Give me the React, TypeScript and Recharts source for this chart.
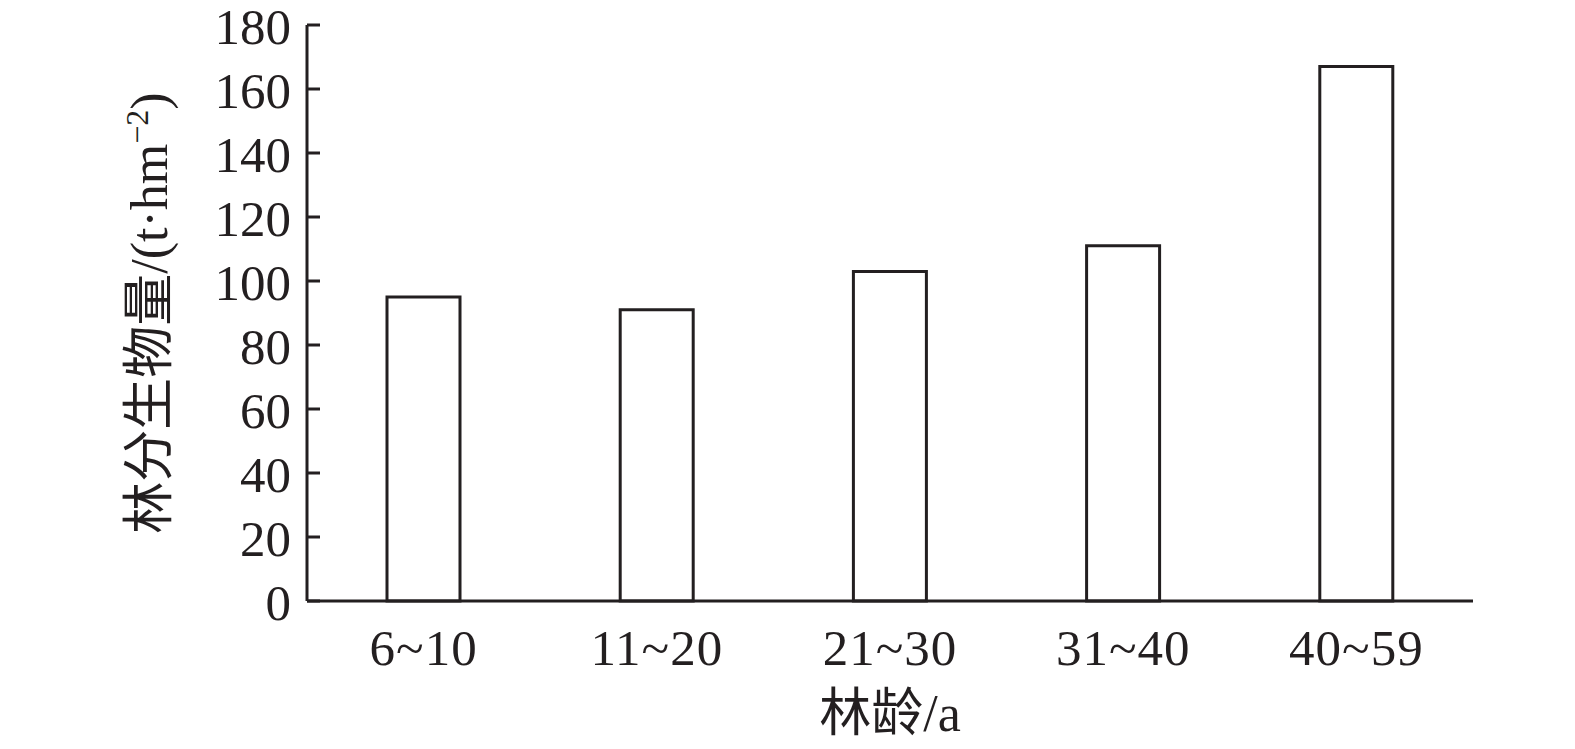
import React from 'react';
import { BarChart, Bar, XAxis, YAxis, Label } from 'recharts';

const categories = ['6~10', '11~20', '21~30', '31~40', '40~59'];
const biomass = [95, 91, 103, 111, 167];
const yTicks = [0, 20, 40, 60, 80, 100, 120, 140, 160, 180];

const data = categories.map((c, i) => ({ age: c, value: biomass[i] }));

const INK = '#231f20';
const FONT = '"Liberation Serif", "Times New Roman", "Noto Sans CJK SC", serif';
const TICK_GAP = 16;
const TICK_LEN = 13;

const YTick = (props: any) => {
  const { x, y, payload } = props;
  return (
    <g>
      <line x1={x + TICK_GAP} x2={x + TICK_GAP + TICK_LEN} y1={y} y2={y} stroke={INK} strokeWidth={3} />
      <text x={x} y={y} dy="0.38em" textAnchor="end" fontFamily={FONT} fontSize={51} fill={INK}>
        {payload.value}
      </text>
    </g>
  );
};

const XTick = (props: any) => {
  const { x, y, payload } = props;
  return (
    <text x={x} y={y} dy={64} textAnchor="middle" fontFamily={FONT} fontSize={51} fill={INK} letterSpacing={1}>
      {payload.value}
    </text>
  );
};

const YLabel = (props: any) => {
  const vb = props.viewBox || {};
  const cx = vb.x - 20;
  const cy = vb.y + vb.height / 2;
  return (
    <text
      x={cx}
      y={cy}
      transform={`rotate(-90 ${cx} ${cy})`}
      textAnchor="middle"
      fontFamily={FONT}
      fontSize={52}
      fill={INK}
    >
      林分生物量/(t·hm
      <tspan dy="-0.6em" fontSize={32}>−2</tspan>
      <tspan dy="0.37em">)</tspan>
    </text>
  );
};

const XLabel = (props: any) => {
  const vb = props.viewBox || {};
  return (
    <text
      x={vb.x + vb.width / 2}
      y={vb.y + 130}
      textAnchor="middle"
      fontFamily={FONT}
      fontSize={52}
      fill={INK}
    >
      林龄/a
    </text>
  );
};

export default function App() {
  return (
    <div style={{ position: 'absolute', left: 0, top: 0, background: '#fff' }}>
      <BarChart
        width={1575}
        height={749}
        data={data}
        margin={{ top: 25, right: 102, bottom: 0, left: 187 }}
      >
        <XAxis
          dataKey="age"
          height={148}
          axisLine={{ stroke: INK, strokeWidth: 3 }}
          tickLine={false}
          tickSize={0}
          tickMargin={0}
          tick={<XTick />}
          interval={0}
        >
          <Label content={<XLabel />} />
        </XAxis>
        <YAxis
          width={120}
          domain={[0, 180]}
          ticks={yTicks}
          interval={0}
          axisLine={{ stroke: INK, strokeWidth: 3 }}
          tickLine={false}
          tickSize={0}
          tickMargin={TICK_GAP}
          tick={<YTick />}
        >
          <Label content={<YLabel />} />
        </YAxis>
        <Bar
          dataKey="value"
          barSize={73}
          fill="#ffffff"
          stroke={INK}
          strokeWidth={3}
          isAnimationActive={false}
        />
      </BarChart>
    </div>
  );
}
